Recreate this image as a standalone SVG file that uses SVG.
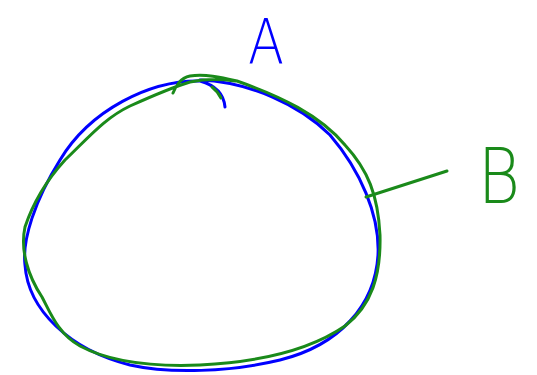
<svg xmlns="http://www.w3.org/2000/svg" width="537" height="375" viewBox="0 0 537 375">
<style>
.ink{fill:none;stroke-linecap:round;stroke-linejoin:round;stroke-width:3}
.blue{stroke:#0000ff}
.green{stroke:#1a8a1a}
.lbl{font-family:"DejaVu Sans","Open Sans",sans-serif;font-weight:200}
</style>
<rect width="537" height="375" fill="#ffffff"/>
<g id="nodeA">
<path class="ink blue" d="M225,107 C224,96 218,86 200,81 C150,80 90,110 60,160 C35,200 22,240 25,265 C28,310 70,350 130,365 C170,374 230,372 280,360 C340,345 375,305 378,255 C380,215 360,170 330,135 C300,105 250,82 200,80"/>
<text class="lbl" x="0" y="0" font-size="62" fill="#0000ff" text-anchor="middle" transform="translate(266,63) scale(0.85,1)">A</text>
</g>
<g id="nodeB">
<path class="ink green" d="M173,93 C176,86 180,78 190,76 C205,74 220,77 237,81 C280,96 320,115 345,145 C368,170 378,195 380,235 C381,275 372,305 345,326 C310,350 260,362 200,365 C150,367 110,362 80,346 C58,334 50,312 42,297 C28,276 20,250 25,227 C33,203 45,182 65,160 C90,136 105,118 130,106 C150,97 170,88 190,82 C205,79 220,79 235,81"/>
<path class="ink green" d="M212,87 C216,90 219,94 221,98"/>
<text class="lbl" x="0" y="0" font-size="76" fill="#1a8a1a" text-anchor="middle" transform="translate(499,203) scale(0.85,1)">B</text>
</g>
<g id="connectors">
<path class="ink green" d="M366,197 L447,171"/>
</g>
</svg>
